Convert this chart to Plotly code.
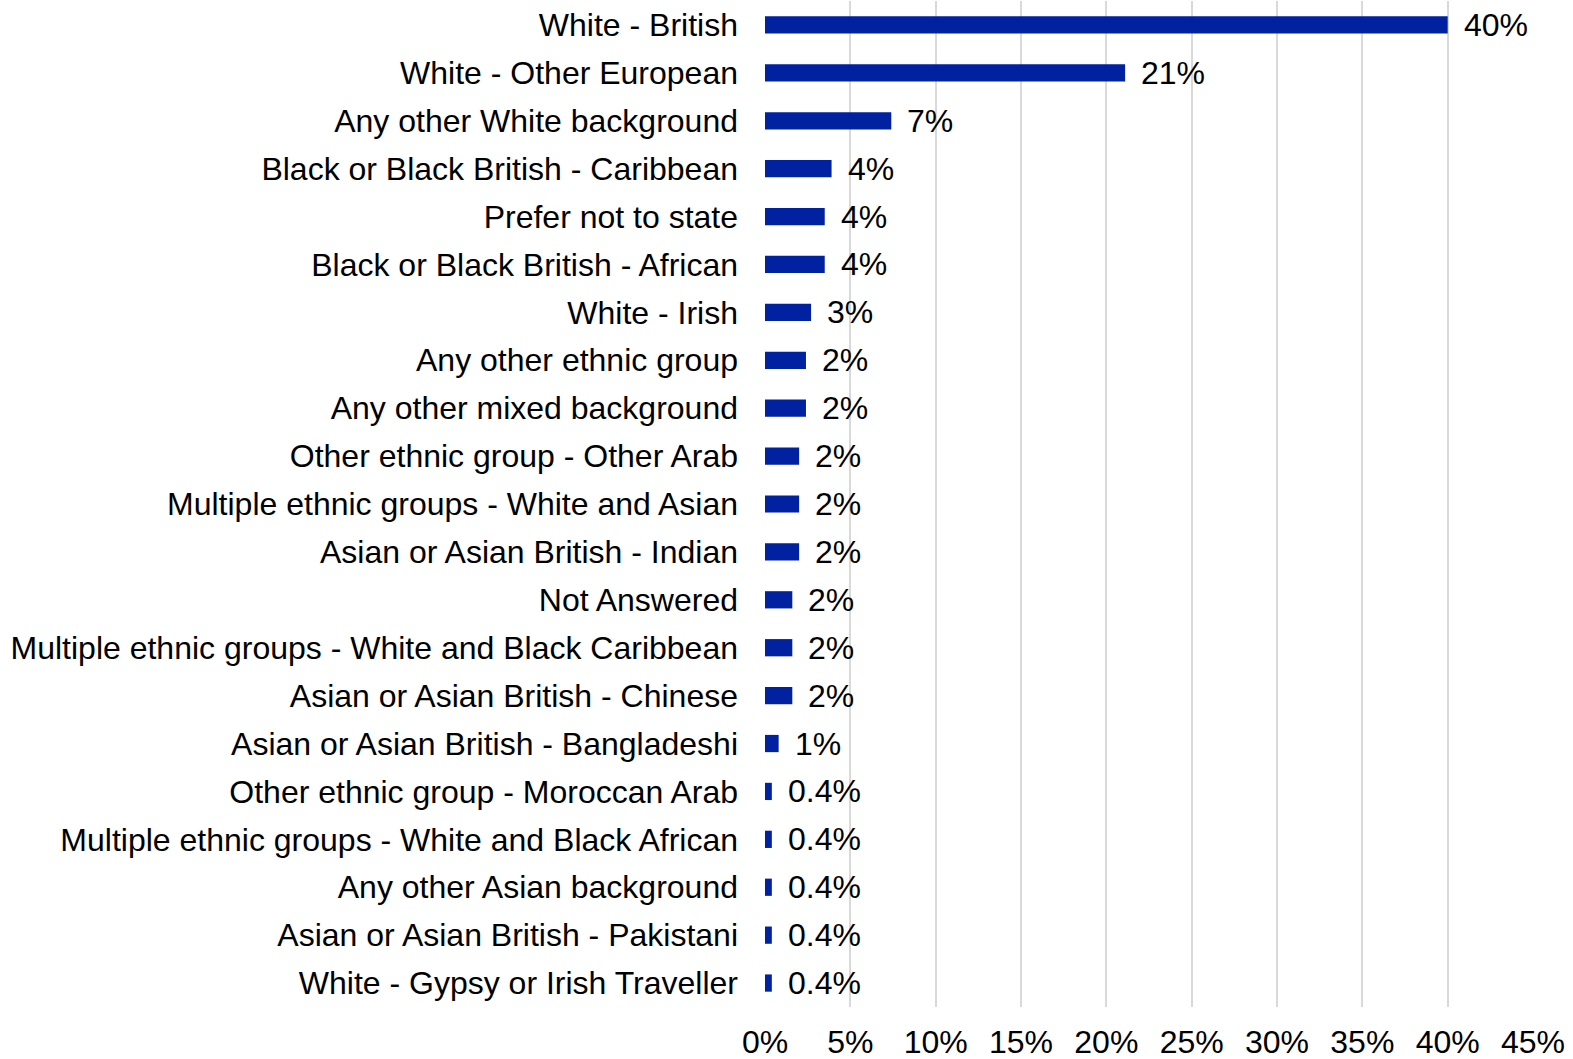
import plotly.graph_objects as go

# Ethnicity of respondents, share of total (%)
categories = [
    "White - British",
    "White - Other European",
    "Any other White background",
    "Black or Black British - Caribbean",
    "Prefer not to state",
    "Black or Black British - African",
    "White - Irish",
    "Any other ethnic group",
    "Any other mixed background",
    "Other ethnic group - Other Arab",
    "Multiple ethnic groups - White and Asian",
    "Asian or Asian British - Indian",
    "Not Answered",
    "Multiple ethnic groups - White and Black Caribbean",
    "Asian or Asian British - Chinese",
    "Asian or Asian British - Bangladeshi",
    "Other ethnic group - Moroccan Arab",
    "Multiple ethnic groups - White and Black African",
    "Any other Asian background",
    "Asian or Asian British - Pakistani",
    "White - Gypsy or Irish Traveller",
]
shares = [40.0, 21.1, 7.4, 3.9, 3.5, 3.5, 2.7, 2.4, 2.4, 2.0, 2.0, 2.0,
          1.6, 1.6, 1.6, 0.8, 0.4, 0.4, 0.4, 0.4, 0.4]
x_ticks = [0, 5, 10, 15, 20, 25, 30, 35, 40, 45]


def fmt(v):
    # shares under half a percent keep one decimal place
    return f"{v:.1f}%" if v < 0.5 else f"{v:.0f}%"


FONT = "Liberation Sans, Arial, sans-serif"
FS = 32
BAR = "#0022A0"

fig = go.Figure(
    go.Bar(
        x=shares,
        y=categories,
        orientation="h",
        marker=dict(color=BAR, line=dict(width=0)),
        hoverinfo="skip",
    )
)

for cat, v in zip(categories, shares):
    fig.add_annotation(
        x=v, y=cat, text=fmt(v), showarrow=False,
        xanchor="left", yanchor="middle", xshift=14,
        font=dict(family=FONT, size=FS, color="#000000"),
    )

fig.update_layout(
    width=1573,
    height=1059,
    margin=dict(l=765, r=40, t=1, b=52, autoexpand=False),
    paper_bgcolor="white",
    plot_bgcolor="white",
    bargap=0.64,
    showlegend=False,
    font=dict(family=FONT, size=FS, color="#000000"),
    xaxis=dict(
        range=[0, 45],
        tickvals=x_ticks,
        ticktext=[f"{t}%" for t in x_ticks],
        showgrid=True,
        gridcolor="#d9d9d9",
        gridwidth=2,
        zeroline=False,
        showline=False,
        ticks="",
        ticklabelstandoff=13,
        tickfont=dict(family=FONT, size=FS, color="#000000"),
        automargin=False,
        fixedrange=True,
    ),
    yaxis=dict(
        categoryorder="array",
        categoryarray=categories[::-1],
        showgrid=False,
        zeroline=False,
        showline=False,
        ticks="",
        ticklabelstandoff=26,
        tickfont=dict(family=FONT, size=FS, color="#000000"),
        automargin=False,
        fixedrange=True,
    ),
)

fig.write_html("out.html", config={"displayModeBar": False})
